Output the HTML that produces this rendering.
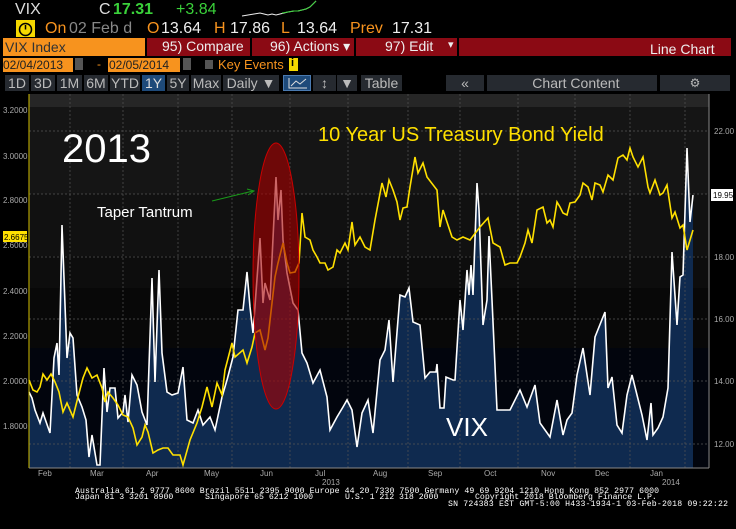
<!DOCTYPE html>
<html><head><meta charset="utf-8"><style>
body{margin:0;background:#000;width:736px;height:529px;overflow:hidden;font-family:"Liberation Sans",sans-serif;}
.t{position:absolute;white-space:pre;}
.bx{position:absolute;box-sizing:border-box;}
.b{position:absolute;box-sizing:border-box;top:75px;height:16px;background:#262a30;color:#bbb;font-size:14px;line-height:16px;text-align:center;white-space:pre;overflow:hidden;}
.h{position:absolute;white-space:pre;font-size:16px;top:20px;}
</style></head><body>
<div style="position:relative;width:736px;height:529px;">
<!-- header row 1 -->
<div class="t" style="left:15px;top:1px;font-size:16px;color:#ddd;">VIX</div>
<div class="t" style="left:99px;top:1px;font-size:16px;color:#ddd;">C</div>
<div class="t" style="left:113px;top:1px;font-size:16px;color:#3ad13a;font-weight:bold">17.31</div>
<div class="t" style="left:176px;top:1px;font-size:16px;color:#3ad13a;">+3.84</div>
<svg style="position:absolute;left:240px;top:0" width="80" height="20"><polyline points="2,16 8,15 14,14 20,13 24,14 28,15 32,14 36,15 40,14 44,13 48,12 54,11 58,11 62,10 66,9 70,7 74,3 76,1" fill="none" stroke="#eee" stroke-width="1"/><polyline points="42,13 48,12 54,11 58,11 62,10 66,9 70,7 74,3 76,1" fill="none" stroke="#3ad13a" stroke-width="1"/></svg>
<div class="bx" style="left:16px;top:20px;width:19px;height:17px;background:#f5d800;"></div>
<svg style="position:absolute;left:16px;top:20px" width="19" height="17"><circle cx="9.5" cy="9.5" r="6" fill="none" stroke="#000" stroke-width="1.5"/><line x1="9.5" y1="9.5" x2="9.5" y2="5" stroke="#000" stroke-width="1.5"/></svg>
<div class="h" style="left:45px;color:#f7931e;">On</div>
<div class="h" style="left:69px;color:#888;">02 Feb d</div>
<div class="h" style="left:147px;color:#f7931e;">O</div>
<div class="h" style="left:161px;color:#eee;">13.64</div>
<div class="h" style="left:214px;color:#f7931e;">H</div>
<div class="h" style="left:230px;color:#eee;">17.86</div>
<div class="h" style="left:281px;color:#f7931e;">L</div>
<div class="h" style="left:297px;color:#eee;">13.64</div>
<div class="h" style="left:350px;color:#f7931e;">Prev</div>
<div class="h" style="left:392px;color:#eee;">17.31</div>
<!-- row 3 -->
<div class="bx" style="left:3px;top:38px;width:142px;height:18px;background:#f7931e;"></div>
<div class="t" style="left:5px;top:39px;font-size:14px;color:#333;">VIX Index</div>
<div class="bx" style="left:147px;top:38px;width:103px;height:18px;background:#8b0a14;"></div>
<div class="t" style="left:162px;top:38px;font-size:14px;color:#eee;">95) Compare</div>
<div class="bx" style="left:252px;top:38px;width:102px;height:18px;background:#8b0a14;"></div>
<div class="t" style="left:270px;top:38px;font-size:14px;color:#eee;">96) Actions ▾</div>
<div class="bx" style="left:356px;top:38px;width:101px;height:18px;background:#8b0a14;"></div>
<div class="t" style="left:385px;top:38px;font-size:14px;color:#eee;">97) Edit</div>
<div class="t" style="left:448px;top:38px;font-size:11px;color:#eee;">▾</div>
<div class="bx" style="left:459px;top:38px;width:272px;height:18px;background:#8b0a14;"></div>
<div class="t" style="left:650px;top:41px;font-size:14px;color:#eee;">Line Chart</div>
<!-- row 4 -->
<div class="bx" style="left:3px;top:58px;width:70px;height:14px;background:#f7931e;"></div>
<div class="t" style="left:3px;top:58px;font-size:12px;color:#222;">02/04/2013</div>
<div class="bx" style="left:75px;top:58px;width:8px;height:12px;background:#555;"></div>
<div class="t" style="left:97px;top:57px;font-size:12px;color:#f7931e;">-</div>
<div class="bx" style="left:108px;top:58px;width:72px;height:14px;background:#f7931e;"></div>
<div class="t" style="left:109px;top:58px;font-size:12px;color:#222;">02/05/2014</div>
<div class="bx" style="left:183px;top:58px;width:8px;height:12px;background:#555;"></div>
<div class="bx" style="left:205px;top:60px;width:8px;height:9px;background:#555;"></div>
<div class="t" style="left:218px;top:57px;font-size:13px;color:#f7931e;">Key Events</div>
<div class="bx" style="left:289px;top:58px;width:9px;height:13px;background:#f5d800;"></div>
<div class="t" style="left:291px;top:57px;font-size:11px;color:#000;font-weight:bold">i</div>
<!-- row 5 -->
<div class="b" style="left:5px;width:24px">1D</div>
<div class="b" style="left:31px;width:24px">3D</div>
<div class="b" style="left:57px;width:25px">1M</div>
<div class="b" style="left:84px;width:24px">6M</div>
<div class="b" style="left:110px;width:30px">YTD</div>
<div class="b" style="left:142px;width:23px;background:#1e4a7a;color:#ddd">1Y</div>
<div class="b" style="left:167px;width:22px">5Y</div>
<div class="b" style="left:191px;width:30px">Max</div>
<div class="b" style="left:223px;width:56px">Daily ▼</div>
<div class="b" style="left:283px;width:28px;background:#1e4a7a;border:1px solid #4a7ab0"></div>
<svg style="position:absolute;left:288px;top:77px" width="20" height="12"><polyline points="1,1 1,11 19,11" fill="none" stroke="#ddd"/><polyline points="3,9 8,4 12,7 18,2" fill="none" stroke="#ddd"/></svg>
<div class="b" style="left:313px;width:23px">↕</div>
<div class="b" style="left:337px;width:20px">▼</div>
<div class="b" style="left:361px;width:41px">Table</div>
<div class="b" style="left:446px;width:38px">«</div>
<div class="b" style="left:487px;width:170px">  Chart Content</div>
<div class="b" style="left:660px;width:70px;font-size:12px">⚙</div>

<svg style="position:absolute;left:0;top:0" width="736" height="529">
<rect x="29" y="94" width="680" height="13" fill="#262626"/>
<rect x="29" y="107" width="680" height="87" fill="#151515"/>
<rect x="29" y="194" width="680" height="62" fill="#111"/>
<rect x="29" y="256" width="680" height="32" fill="#0d0d0d"/>
<rect x="29" y="288" width="680" height="60" fill="#080808"/>
<rect x="29" y="348" width="680" height="120" fill="#02050d"/>
<polygon fill="#0f2a4f" points="29,468 29,392 32,398 35,410 40,423 43,413 50,433 54,358 57,343 59,375 62,225 67,358 70,333 73,338 77,395 82,407 86,420 89,457 92,435 97,465 100,465 104,368 107,412 110,388 115,388 118,418 123,412 125,395 128,422 132,375 137,385 142,412 147,425 152,278 155,382 159,270 162,353 167,392 172,395 178,393 183,367 187,420 193,423 198,410 203,425 210,417 215,430 222,397 227,380 233,357 238,310 243,310 247,272 250,307 253,333 260,238 263,303 265,283 270,300 276,177 278,220 281,190 283,240 287,273 293,303 298,310 302,353 307,363 313,383 320,370 327,397 330,430 337,417 343,407 347,400 352,410 357,447 362,413 368,400 373,433 380,360 385,350 389,320 393,382 400,295 405,297 409,288 413,322 420,325 425,378 430,372 436,372 437,364 440,408 444,408 446,377 453,380 455,380 460,300 463,330 467,270 469,295 471,265 473,295 477,183 479,210 483,325 487,300 489,236 492,300 497,410 510,410 520,390 527,407 535,385 540,423 550,437 557,400 563,435 567,420 572,413 577,375 583,348 590,395 595,337 605,312 608,388 612,377 617,425 622,433 627,395 632,375 637,395 642,415 647,440 651,403 653,435 658,428 663,417 668,388 672,252 677,325 680,277 683,275 687,148 690,222 693,195 693,468"/>
<g stroke="#555" stroke-width="0.7" stroke-dasharray="2,2">
<line x1="29" x2="709" y1="131" y2="131"/><line x1="29" x2="709" y1="194" y2="194"/><line x1="29" x2="709" y1="257" y2="257"/><line x1="29" x2="709" y1="319" y2="319"/><line x1="29" x2="709" y1="381" y2="381"/><line x1="29" x2="709" y1="444" y2="444"/>
<line x1="70" x2="70" y1="94" y2="468"/><line x1="123" x2="123" y1="94" y2="468"/><line x1="178" x2="178" y1="94" y2="468"/><line x1="232" x2="232" y1="94" y2="468"/><line x1="290" x2="290" y1="94" y2="468"/><line x1="348" x2="348" y1="94" y2="468"/><line x1="408" x2="408" y1="94" y2="468"/><line x1="460" x2="460" y1="94" y2="468"/><line x1="518" x2="518" y1="94" y2="468"/><line x1="575" x2="575" y1="94" y2="468"/><line x1="630" x2="630" y1="94" y2="468"/><line x1="685" x2="685" y1="94" y2="468"/>
</g>
<polyline fill="none" stroke="#fff" stroke-width="1.6" points="29,392 32,398 35,410 40,423 43,413 50,433 54,358 57,343 59,375 62,225 67,358 70,333 73,338 77,395 82,407 86,420 89,457 92,435 97,465 100,465 104,368 107,412 110,388 115,388 118,418 123,412 125,395 128,422 132,375 137,385 142,412 147,425 152,278 155,382 159,270 162,353 167,392 172,395 178,393 183,367 187,420 193,423 198,410 203,425 210,417 215,430 222,397 227,380 233,357 238,310 243,310 247,272 250,307 253,333 260,238 263,303 265,283 270,300 276,177 278,220 281,190 283,240 287,273 293,303 298,310 302,353 307,363 313,383 320,370 327,397 330,430 337,417 343,407 347,400 352,410 357,447 362,413 368,400 373,433 380,360 385,350 389,320 393,382 400,295 405,297 409,288 413,322 420,325 425,378 430,372 436,372 437,364 440,408 444,408 446,377 453,380 455,380 460,300 463,330 467,270 469,295 471,265 473,295 477,183 479,210 483,325 487,300 489,236 492,300 497,410 510,410 520,390 527,407 535,385 540,423 550,437 557,400 563,435 567,420 572,413 577,375 583,348 590,395 595,337 605,312 608,388 612,377 617,425 622,433 627,395 632,375 637,395 642,415 647,440 651,403 653,435 658,428 663,417 668,388 672,252 677,325 680,277 683,275 687,148 690,222 693,195"/>
<polyline fill="none" stroke="#ffe000" stroke-width="1.6" points="29,380 33,390 37,392 40,387 43,374 47,380 51,374 55,382 59,392 63,412 67,403 73,417 78,397 83,378 87,368 92,378 97,375 102,388 105,402 108,392 113,398 118,405 123,415 128,417 133,428 137,445 142,437 145,425 148,432 153,453 158,450 163,448 168,448 173,455 180,455 183,465 190,440 197,423 202,407 207,387 212,407 217,383 222,395 225,370 232,343 235,357 243,350 247,363 252,347 255,333 260,330 265,350 268,338 272,303 275,277 278,263 283,243 287,263 290,273 295,272 299,263 302,213 305,237 310,240 313,250 317,257 320,263 325,263 328,270 333,267 337,250 340,253 345,243 348,250 352,222 355,245 360,237 365,247 370,250 375,220 382,183 386,197 389,180 393,190 397,202 400,220 403,208 407,207 410,187 415,157 418,173 423,163 427,177 437,190 440,227 443,210 452,237 457,240 463,237 470,240 480,227 488,218 493,243 500,247 505,265 510,263 517,263 520,257 525,243 528,230 532,243 537,210 543,207 547,223 550,220 553,227 557,202 560,207 563,213 567,215 570,203 575,202 580,195 583,183 588,187 592,200 595,183 600,185 603,192 608,175 613,180 618,158 623,155 627,160 630,148 633,157 638,167 643,157 648,187 650,193 655,180 660,195 663,193 667,185 672,218 675,212 680,228 683,225 687,250 693,230"/>
<ellipse cx="276" cy="276" rx="23" ry="133" fill="rgba(170,0,0,0.6)" stroke="#c00" stroke-width="1"/>
<line x1="212" y1="201" x2="253" y2="191" stroke="#1a9a1a" stroke-width="1"/>
<polyline points="247,189 254,191 248,195" fill="none" stroke="#1a9a1a" stroke-width="1"/>
<line x1="29" x2="29" y1="94" y2="468" stroke="#d4c000" stroke-width="1"/>
<line x1="709" x2="709" y1="94" y2="468" stroke="#888" stroke-width="1"/>
<line x1="29" x2="709" y1="468" y2="468" stroke="#888" stroke-width="1"/>
<g font-size="8" fill="#aaa" font-family="Liberation Sans">
<text x="3" y="113">3.2000</text><text x="3" y="159">3.0000</text><text x="3" y="203">2.8000</text><text x="3" y="248">2.6000</text><text x="3" y="294">2.4000</text><text x="3" y="339">2.2000</text><text x="3" y="384">2.0000</text><text x="3" y="429">1.8000</text>
<text x="714" y="134">22.00</text><text x="714" y="260">18.00</text><text x="714" y="322">16.00</text><text x="714" y="384">14.00</text><text x="714" y="447">12.00</text>
<text x="38" y="476">Feb</text><text x="90" y="476">Mar</text><text x="146" y="476">Apr</text><text x="204" y="476">May</text><text x="260" y="476">Jun</text><text x="315" y="476">Jul</text><text x="373" y="476">Aug</text><text x="428" y="476">Sep</text><text x="484" y="476">Oct</text><text x="541" y="476">Nov</text><text x="595" y="476">Dec</text><text x="650" y="476">Jan</text>
<text x="322" y="485">2013</text><text x="662" y="485">2014</text>
</g>
<rect x="3" y="231" width="24" height="11" fill="#ffe000"/>
<text x="4" y="240" font-size="8" fill="#000" font-family="Liberation Sans">2.6675</text>
<rect x="711" y="189" width="22" height="12" fill="#fff"/>
<text x="713" y="198" font-size="8" fill="#000" font-family="Liberation Sans">19.95</text>
<text x="62" y="162" font-size="40" fill="#fff" font-family="Liberation Sans">2013</text>
<text x="97" y="217" font-size="15" fill="#fff" font-family="Liberation Sans">Taper Tantrum</text>
<text x="318" y="141" font-size="20" fill="#ffe000" font-family="Liberation Sans">10 Year US Treasury Bond Yield</text>
<text x="446" y="436" font-size="26" fill="#fff" font-family="Liberation Sans">VIX</text>
<g font-size="8.2" fill="#fff" font-family="Liberation Mono">
<text x="75" y="493" textLength="584">Australia 61 2 9777 8600 Brazil 5511 2395 9000 Europe 44 20 7330 7500 Germany 49 69 9204 1210 Hong Kong 852 2977 6000</text>
<text x="75" y="499">Japan 81 3 3201 8900</text><text x="205" y="499">Singapore 65 6212 1000</text><text x="345" y="499">U.S. 1 212 318 2000</text><text x="475" y="499">Copyright 2018 Bloomberg Finance L.P.</text>
<text x="448" y="506" textLength="280">SN 724383 EST  GMT-5:00 H433-1934-1 03-Feb-2018 09:22:22</text>
</g>
</svg>
</div>
</body></html>
